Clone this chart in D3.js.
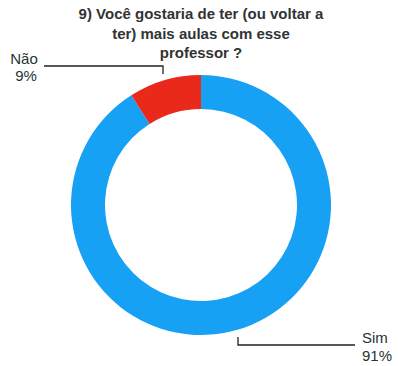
<!DOCTYPE html>
<html>
<head>
<meta charset="utf-8">
<script src="https://cdn.jsdelivr.net/npm/d3@7"></script>
<style>
  html, body { margin: 0; padding: 0; background: #fff; }
  svg { display: block; }
</style>
</head>
<body>
<svg id="chart" width="398" height="366"></svg>
<script>
// Survey answers and their shares (percent)
const categories = ["Sim", "Não"];
const values = [91, 9];
const colors = ["#17a1f5", "#e92a1b"];
const titleLines = ["9) Você gostaria de ter (ou voltar a", "ter) mais aulas com esse", "professor ?"];

const svg = d3.select("#chart");
const cx = 201, cy = 205, outerR = 130, innerR = 96;
const font = "Liberation Sans, Arial, sans-serif";

// Title
svg.append("g")
  .selectAll("text")
  .data(titleLines)
  .join("text")
  .attr("x", 201)
  .attr("y", (d, i) => 19 + i * 19.5)
  .attr("text-anchor", "middle")
  .attr("font-family", font)
  .attr("font-size", 15)
  .attr("font-weight", "bold")
  .attr("fill", "#333")
  .text(d => d);

// Donut: slices run clockwise from 12 o'clock, so "Não" closes the ring just left of the top
const data = categories.map((c, i) => ({ cat: c, value: values[i], color: colors[i] }));
const arcs = d3.pie()
  .value(d => d.value)
  .sort(null)
  .startAngle(0)
  .endAngle(2 * Math.PI)(data);
const arc = d3.arc().innerRadius(innerR).outerRadius(outerR);

svg.append("g")
  .attr("transform", `translate(${cx},${cy})`)
  .selectAll("path")
  .data(arcs)
  .join("path")
  .attr("d", arc)
  .attr("fill", d => d.data.color);

// Leader lines
const line = svg.append("g")
  .attr("fill", "none")
  .attr("stroke", "#222")
  .attr("stroke-width", 1.3);
line.append("polyline").attr("points", "44,66 163,66 163,74");
line.append("polyline").attr("points", "238,337 238,345 355,345");

// Slice labels
const noLbl = svg.append("g").attr("font-family", font).attr("font-size", 15)
  .attr("fill", "#263434").attr("text-anchor", "middle");
noLbl.append("text").attr("x", 24).attr("y", 64).text(categories[1]);
noLbl.append("text").attr("x", 26).attr("y", 81).text(values[1] + "%");

const simLbl = svg.append("g").attr("font-family", font).attr("font-size", 15)
  .attr("fill", "#263434").attr("text-anchor", "start");
simLbl.append("text").attr("x", 362).attr("y", 343).text(categories[0]);
simLbl.append("text").attr("x", 362).attr("y", 361).text(values[0] + "%");
</script>
</body>
</html>
